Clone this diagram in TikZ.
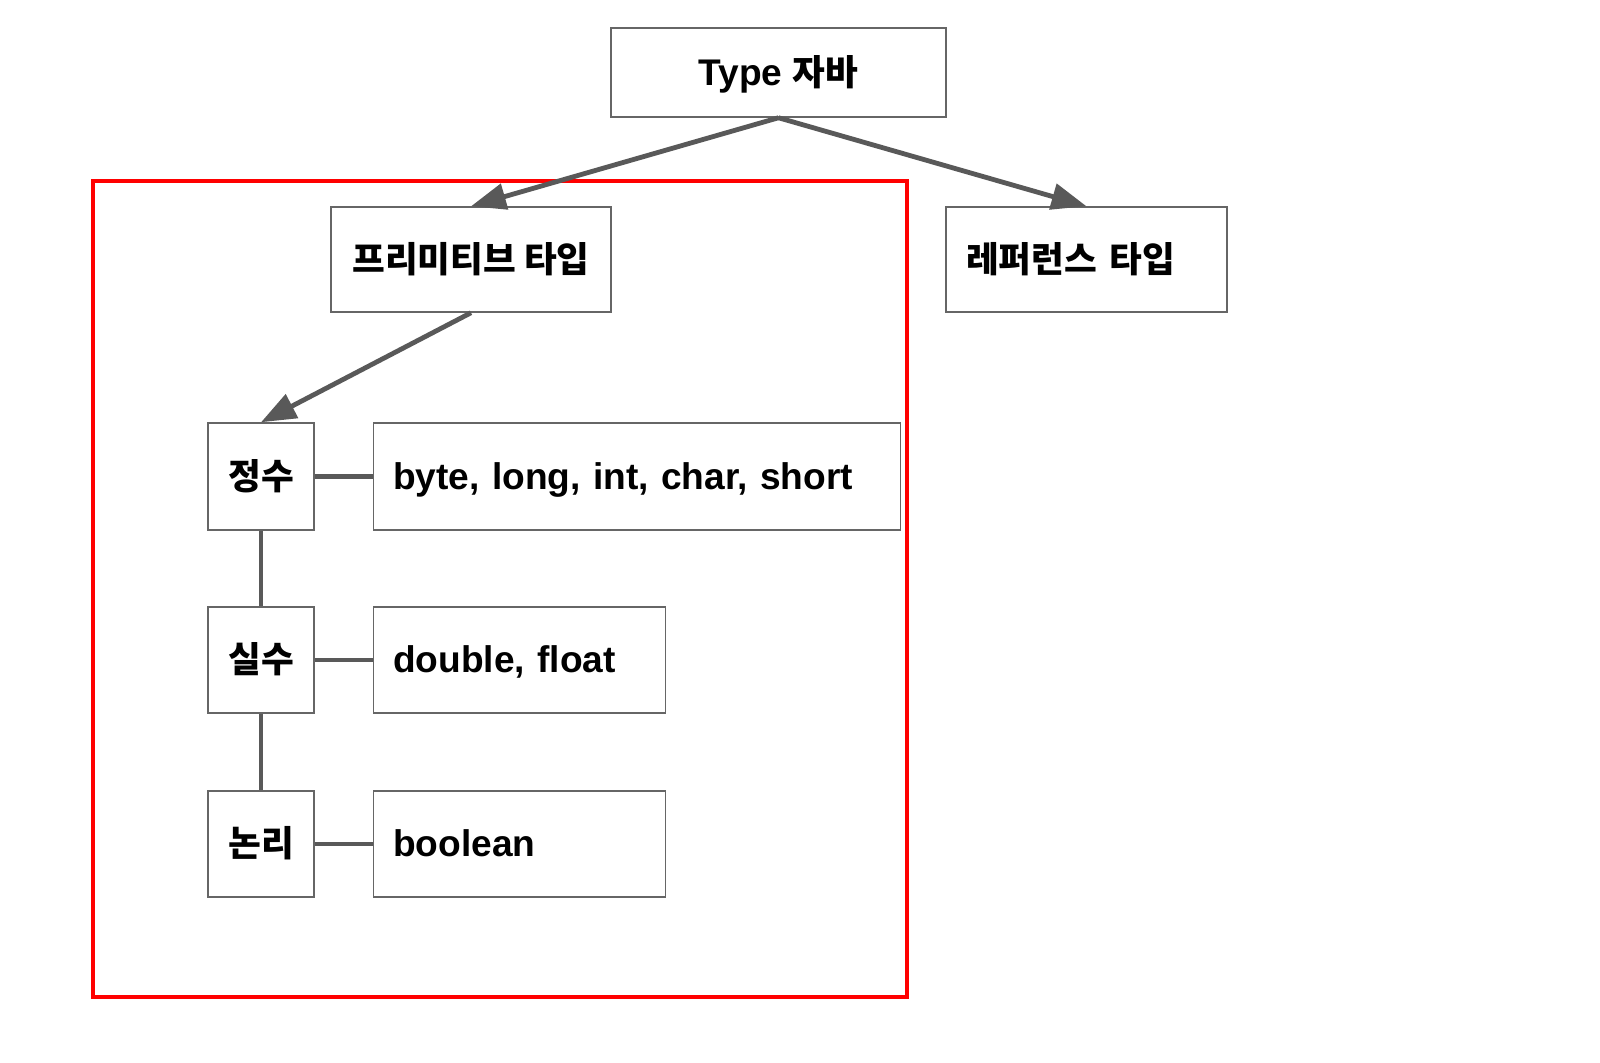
\documentclass[tikz,border=0pt]{standalone}
\usepackage{fontspec}
\setmainfont{Liberation Sans}
\newfontfamily\krfont{Noto Sans CJK KR Bold}
\usetikzlibrary{arrows.meta}
\newcommand{\KR}[1]{{\krfont\fontsize{17.8}{21}\selectfont #1}}
\definecolor{linegray}{HTML}{595959}
\definecolor{boxgray}{HTML}{666666}
\definecolor{redline}{HTML}{FF0000}
\begin{document}
\begin{tikzpicture}[x=0.5pt,y=-0.5pt,
  box/.style={draw=boxgray, line width=0.75pt, inner sep=0pt, fill=white,
    font=\bfseries\fontsize{18.55}{22}\selectfont, text height=16.8pt, text depth=3.9pt},
  cbox/.style={box, align=center},
  lbox/.style={box, inner xsep=10pt, align=left},
  conn/.style={draw=linegray, line width=2.4pt},
  arr/.style={conn, -{Triangle[length=17.5pt,width=13pt]}}]
\useasboundingbox (0,0) rectangle (1600,1062);
\fill[white] (0,0) rectangle (1600,1062);
% red frame
\draw[redline, line width=2.4pt] (93,181) rectangle (907,997);
% nodes
\node[cbox, minimum width=167.5pt, minimum height=44.5pt] (type) at (778.5,72.5) {Type \KR{자바}};
\node[cbox, minimum width=140pt, minimum height=52.5pt] (prim) at (471,259.5) {\KR{프리미티브 타입}};
\node[lbox, text width=120.5pt, minimum height=52.5pt] (ref) at (1086.5,259.5) {\KR{레퍼런스 타입}};
\node[cbox, minimum width=53pt, minimum height=53.5pt] (int) at (261,476.5) {\KR{정수}};
\node[lbox, text width=243.5pt, minimum height=53.5pt] (intv) at (636.75,476.5) {byte, long, int, char, short};
\node[cbox, minimum width=53pt, minimum height=53pt] (real) at (261,660) {\KR{실수}};
\node[lbox, text width=126pt, minimum height=53pt] (realv) at (519.25,660) {double, float};
\node[cbox, minimum width=53pt, minimum height=53pt] (logic) at (261,844) {\KR{논리}};
\node[lbox, text width=126pt, minimum height=53pt] (logicv) at (519.25,844) {boolean};
% connectors
\draw[arr] (type.south) -- (prim.north);
\draw[arr] (type.south) -- (ref.north);
\draw[arr] (prim.south) -- (int.north);
\draw[conn] (int.east) -- (intv.west);
\draw[conn] (real.east) -- (realv.west);
\draw[conn] (logic.east) -- (logicv.west);
\draw[conn] (int.south) -- (real.north);
\draw[conn] (real.south) -- (logic.north);
\end{tikzpicture}
\end{document}
